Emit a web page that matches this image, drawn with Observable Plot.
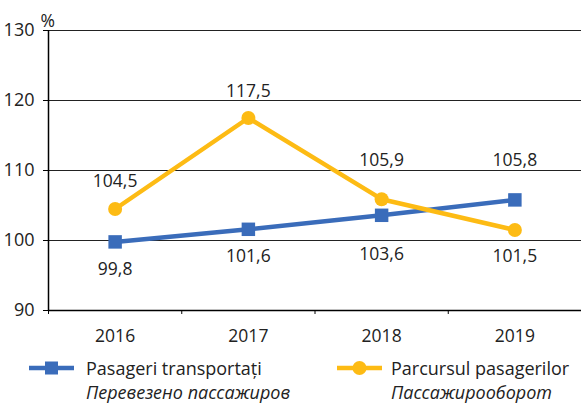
<!DOCTYPE html>
<html>
<head>
<meta charset="utf-8">
<script src="https://cdn.jsdelivr.net/npm/d3@7"></script>
<script src="https://cdn.jsdelivr.net/npm/@observablehq/plot@0.6"></script>
<style>
  body { margin: 0; background: #fff; font-family: "Open Sans", "Noto Sans", sans-serif; }
  #wrap { position: relative; width: 581px; height: 404px; overflow: hidden; }
  .leg { position: absolute; font-size: 18px; color: #222; line-height: 24px; white-space: nowrap; }
  .leg .ru { font-style: italic; }
  .sw { position: absolute; }
</style>
</head>
<body>
<div id="wrap">
  <div id="chart"></div>
</div>
<script>
const years = [2016, 2017, 2018, 2019];
const passengers = [99.8, 101.6, 103.6, 105.8];        // Pasageri transportați
const passengerKm = [104.5, 117.5, 105.9, 101.5];      // Parcursul pasagerilor
const seriesRo = ["Pasageri transportați", "Parcursul pasagerilor"];
const seriesRu = ["Перевезено пассажиров", "Пассажирооборот"];
const yTicks = [90, 100, 110, 120, 130];

const colors = ["#3A6CBA", "#FDBB14"];

const rows = [];
years.forEach((yr, i) => {
  rows.push({year: yr, value: passengers[i], s: 0});
  rows.push({year: yr, value: passengerKm[i], s: 1});
});

// label placement (style, not data)
const labelDy = {
  "0-2016": 27, "0-2017": 27, "0-2018": 39, "0-2019": -40,
  "1-2016": -28, "1-2017": -27, "1-2018": -39, "1-2019": 26
};
const fmt = v => v.toFixed(1).replace(".", ",");
const font = '"Open Sans", "Noto Sans", sans-serif';
const FS = 17.5;

const lo = years[0] - 0.5, hi = years[years.length - 1] + 0.5;
const bounds = [lo].concat(years.slice(1).map(y => y - 0.5));

const plot = Plot.plot({
  width: 581,
  height: 345,
  marginLeft: 48,
  marginRight: 0,
  marginTop: 30,
  marginBottom: 35,
  style: {fontFamily: font, fontSize: FS + "px", color: "#222", background: "#fff", overflow: "visible"},
  x: {type: "linear", domain: [lo, hi], axis: null, label: null},
  y: {domain: [yTicks[0], yTicks[yTicks.length - 1]], axis: null, label: null},
  marks: [
    Plot.ruleY(yTicks.slice(1), {stroke: "#222", strokeWidth: 1}),
    Plot.ruleY([yTicks[0]], {stroke: "#000", strokeWidth: 1.5}),
    Plot.ruleX([lo], {stroke: "#000", strokeWidth: 1.5}),
    Plot.axisY({ticks: yTicks, tickSize: 5, tickPadding: 9, stroke: "#000", fontSize: 18, label: null, tickFormat: d => String(d)}),
    Plot.axisX({ticks: bounds, tickSize: 4, tickFormat: () => "", stroke: "#000", label: null}),
    Plot.axisX({ticks: years, tickSize: 0, tickPadding: 19, fontSize: FS, label: null, tickFormat: d => String(d)}),
    Plot.text(["%"], {frameAnchor: "top-left", dx: -8, dy: -16, fontSize: FS}),
    Plot.line(rows, {x: "year", y: "value", z: "s", stroke: d => colors[d.s], strokeWidth: 4.5}),
    Plot.dot(rows.filter(d => d.s === 0), {x: "year", y: "value", symbol: "square", r: 7.6, fill: colors[0], stroke: null}),
    Plot.dot(rows.filter(d => d.s === 1), {x: "year", y: "value", symbol: "circle", r: 7, fill: colors[1], stroke: null}),
    ...rows.map(d => Plot.text([d], {x: "year", y: "value", text: r => fmt(r.value), dy: labelDy[`${d.s}-${d.year}`], fontSize: FS, fill: "#222"}))
  ]
});
document.getElementById("chart").appendChild(plot);

// legend
const wrap = document.getElementById("wrap");
const legendPos = [{sx: 29, tx: 86}, {sx: 337, tx: 391}];
seriesRo.forEach((name, i) => {
  const p = legendPos[i];
  const sw = document.createElementNS("http://www.w3.org/2000/svg", "svg");
  sw.setAttribute("class", "sw");
  sw.setAttribute("width", 46);
  sw.setAttribute("height", 20);
  sw.style.left = p.sx + "px";
  sw.style.top = "358px";
  const ln = `<line x1="0" x2="45" y1="10" y2="10" stroke="${colors[i]}" stroke-width="4.5"/>`;
  const mk = i === 0
    ? `<rect x="16" y="3.5" width="13" height="13" fill="${colors[i]}"/>`
    : `<circle cx="22.5" cy="10" r="7" fill="${colors[i]}"/>`;
  sw.innerHTML = ln + mk;
  wrap.appendChild(sw);
  const t = document.createElement("div");
  t.className = "leg";
  t.style.left = p.tx + "px";
  t.style.top = "356px";
  t.innerHTML = `<div>${name}</div><div class="ru">${seriesRu[i]}</div>`;
  wrap.appendChild(t);
});
</script>
</body>
</html>
